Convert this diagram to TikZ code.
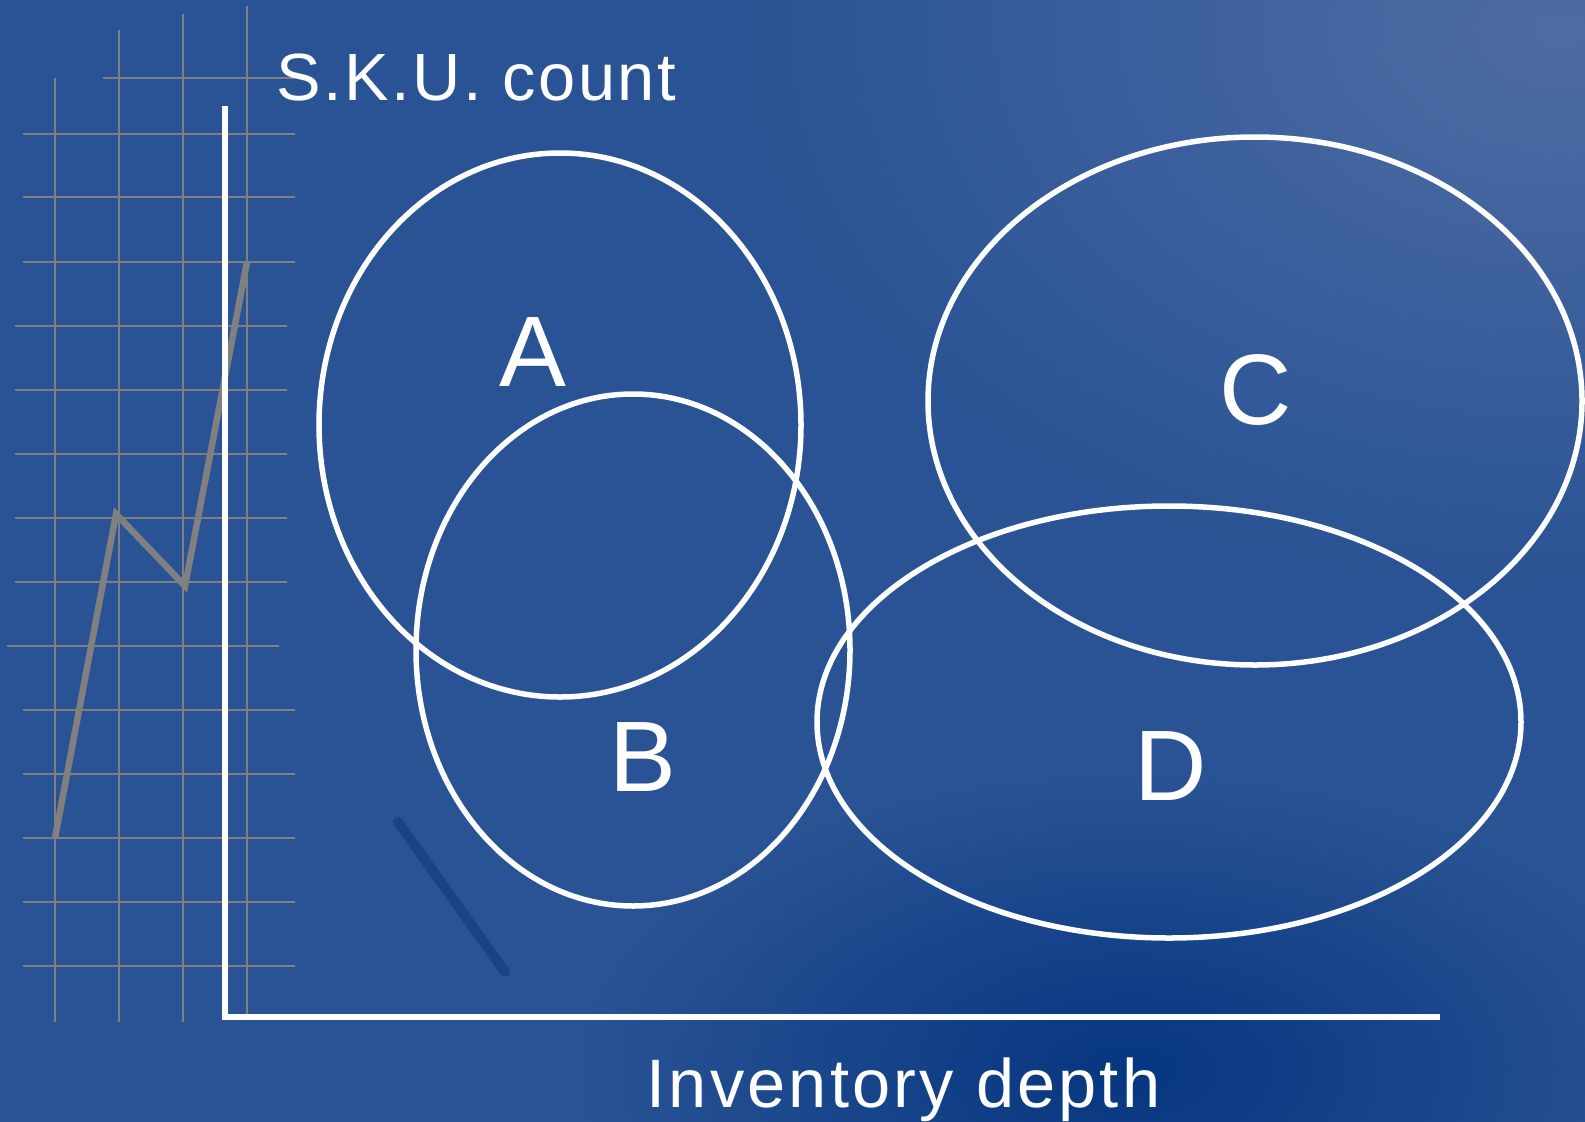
\documentclass[tikz,border=0pt]{standalone}
\usepackage{fontspec}
\setmainfont{Liberation Sans}
\newfontfamily\yaxisfont[LetterSpace=3.6]{Liberation Sans}
\newfontfamily\xaxisfont[LetterSpace=4.6]{Liberation Sans}
\usetikzlibrary{positioning}
\definecolor{bgblue}{RGB}{41,83,148}
\definecolor{bglight}{RGB}{78,108,164}
\definecolor{bgdark}{RGB}{6,54,128}
\definecolor{gridgray}{RGB}{128,128,128}
\tikzset{
  gridline/.style={gridgray, line width=0.02cm},
  setline/.style={white, line width=0.055cm},
  setlabel/.style={white, font=\fontsize{28.5pt}{31pt}\selectfont, inner sep=0pt},
  axislabel/.style={white, inner sep=0pt, anchor=base west},
}

\begin{document}
\begin{tikzpicture}[x=0.01cm, y=-0.01cm]
  \useasboundingbox (0,0) rectangle (1585,1121);
  % background
  \begin{scope}
    \clip (-20,-20) rectangle (1605,1141);
    \fill[bgblue] (-20,-20) rectangle (1605,1141);
    \shade[inner color=bglight, outer color=bgblue] (1560,30) ellipse [x radius=820, y radius=560];
    \shade[inner color=bgdark, outer color=bgblue] (1130,1070) ellipse [x radius=560, y radius=300];
    \draw[bgdark, line width=0.1cm, line cap=round, opacity=0.5] (398,822) -- (505,972);
  \end{scope}

  % grid
  \draw[gridline] (103,78) -- (295,78);
  \foreach \y in {134,197,262,710,774,838,902,966}
    \draw[gridline] (23,\y) -- (295,\y);
  \foreach \y in {326,390,454,518,582}
    \draw[gridline] (15,\y) -- (287,\y);
  \draw[gridline] (7,646) -- (279,646);
  \foreach \x/\top/\bot in {55/78/1022, 119/30/1022, 183/14/1022, 247/6/1014}
    \draw[gridline] (\x,\top) -- (\x,\bot);

  % trend line
  \coordinate (t0) at (55,838);
  \coordinate (t1) at (116,514);
  \coordinate (t2) at (185,586);
  \coordinate (t3) at (247,262);
  \draw[gridgray, line width=0.065cm] (t0) -- (t1) -- (t2) -- (t3);

  % axes
  \coordinate (ytop) at (225,106);
  \coordinate (orig) at (225,1017);
  \coordinate (xend) at (1440,1017);
  \draw[white, line width=0.06cm] (ytop) -- (orig) -- (xend);
  \node[axislabel, font=\yaxisfont\fontsize{19pt}{22pt}\selectfont] (ylab) at (276,100) {S.K.U. count};
  \node[axislabel, font=\xaxisfont\fontsize{19.5pt}{22pt}\selectfont] (xlab) at (646,1107) {Inventory depth};

  % sets
  \coordinate (A) at (560,425);
  \coordinate (B) at (633,650);
  \coordinate (C) at (1255,401);
  \coordinate (D) at (1169,722);
  \draw[setline] (A) ellipse [x radius=241, y radius=272];
  \draw[setline] (B) ellipse [x radius=217, y radius=256];
  \draw[setline] (C) ellipse [x radius=327, y radius=264];
  \draw[setline] (D) ellipse [x radius=352, y radius=216];
  \node[setlabel] (labA) at (533,352) {A};
  \node[setlabel] (labB) at (643,757) {B};
  \node[setlabel] (labC) at (1256,390) {C};
  \node[setlabel] (labD) at (1171,766) {D};
\end{tikzpicture}
\end{document}
